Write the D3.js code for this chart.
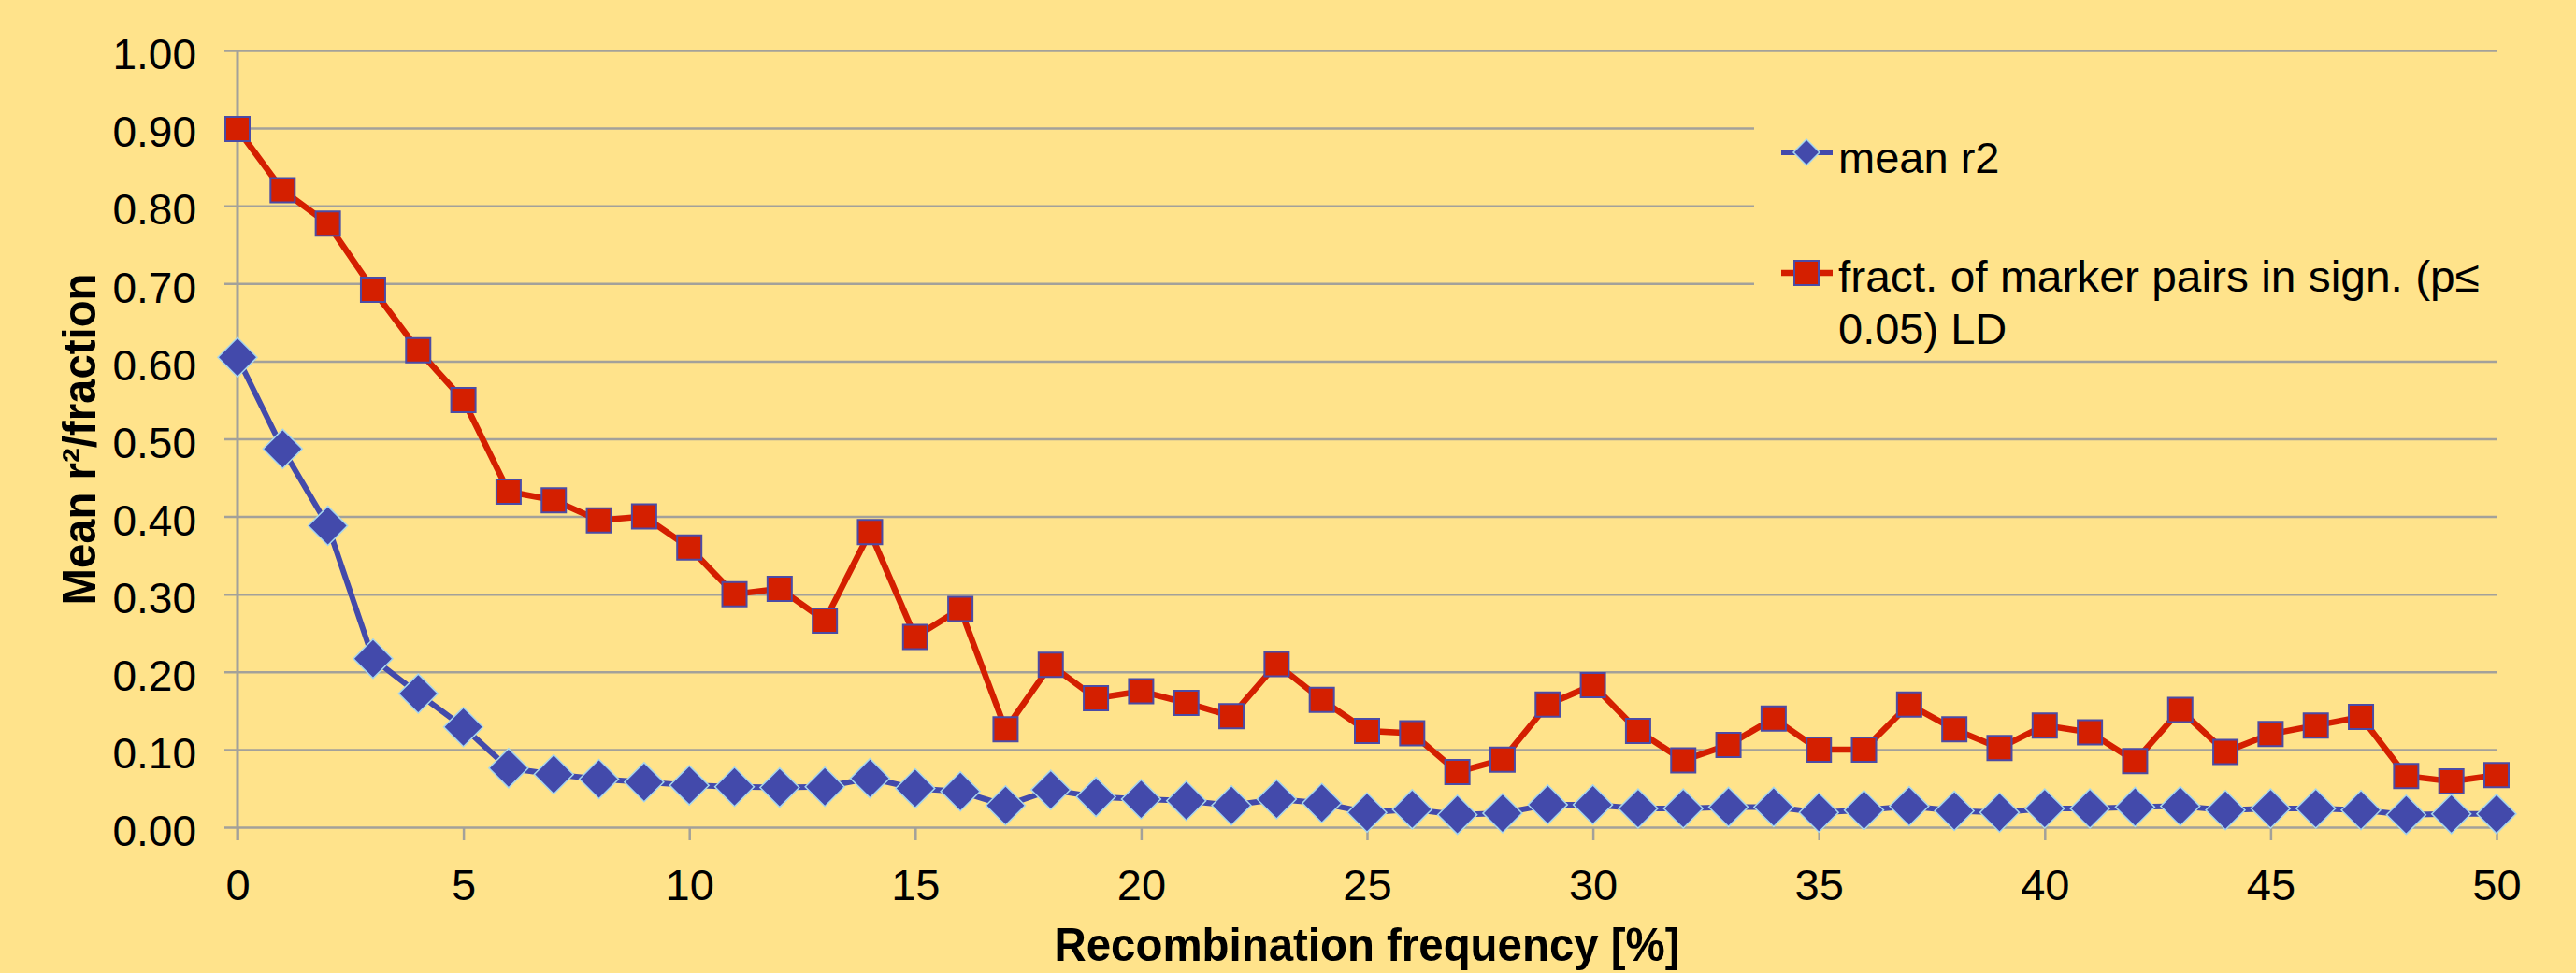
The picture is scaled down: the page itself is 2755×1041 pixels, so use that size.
<!DOCTYPE html>
<html lang="en">

<head>
  <meta charset="UTF-8">
  <title>Mean r2 / LD fraction vs recombination frequency</title>
  <style>
    body {
      margin: 0;
      background: #ffe38b;
    }
    text {
      font-family: "Liberation Sans", Arial, sans-serif;
      fill: #000;
    }
    .gridlines line {
      stroke: #a3a19a;
      stroke-width: 2.5;
    }
    .gridlines .domain,
    .labels .domain,
    .labels line {
      display: none;
    }
  </style>
  <script src="https://d3js.org/d3.v7.min.js"></script>
</head>

<body>
  <svg id="chart" width="2755" height="1041"></svg>
  <script>
    // recombination frequency [%]
    const freq = [0, 1, 2, 3, 4, 5, 6, 7, 8, 9, 10, 11, 12, 13, 14, 15, 16, 17, 18, 19, 20,
      21, 22, 23, 24, 25, 26, 27, 28, 29, 30, 31, 32, 33, 34, 35, 36, 37, 38, 39, 40,
      41, 42, 43, 44, 45, 46, 47, 48, 49, 50];

    const meanR2 = [0.605, 0.487, 0.388, 0.217, 0.172, 0.129, 0.076, 0.068, 0.062, 0.058, 0.054,
      0.052, 0.051, 0.052, 0.063, 0.050, 0.046, 0.028, 0.048, 0.039, 0.036,
      0.034, 0.028, 0.036, 0.031, 0.019, 0.023, 0.016, 0.018, 0.029, 0.029,
      0.024, 0.024, 0.026, 0.026, 0.019, 0.022, 0.027, 0.021, 0.019, 0.024,
      0.024, 0.026, 0.027, 0.022, 0.024, 0.024, 0.022, 0.016, 0.017, 0.017];

    const fractLD = [0.899, 0.820, 0.777, 0.692, 0.614, 0.550, 0.432, 0.421, 0.395, 0.400, 0.360,
      0.300, 0.307, 0.266, 0.380, 0.245, 0.281, 0.126, 0.209, 0.166, 0.175,
      0.160, 0.143, 0.210, 0.164, 0.124, 0.121, 0.071, 0.087, 0.158, 0.183,
      0.124, 0.086, 0.106, 0.140, 0.100, 0.100, 0.158, 0.126, 0.102, 0.131,
      0.122, 0.085, 0.151, 0.097, 0.120, 0.131, 0.142, 0.066, 0.059, 0.067];

    const yTicks = [0, 0.1, 0.2, 0.3, 0.4, 0.5, 0.6, 0.7, 0.8, 0.9, 1.0];
    const xTicks = [0, 5, 10, 15, 20, 25, 30, 35, 40, 45, 50];
    const seriesNames = ["mean r2", "fract. of marker pairs in sign. (p≤", "0.05) LD"];

    const svg = d3.select("svg#chart");
    const gridLeft = 240;
    const plotLeft = 254, plotRight = 2670, plotTop = 54, plotBottom = 885;

    const xScale = d3.scaleLinear().domain([0, 50]).range([plotLeft, plotRight]);
    const yScale = d3.scaleLinear().domain([0, 1]).range([plotBottom, plotTop]);

    // horizontal gridlines (they poke out left of the axis like ticks)
    let grid = d3.axisRight(yScale).tickValues(yTicks)
      .tickSize(plotRight - gridLeft).tickFormat('');
    svg.append('g')
      .attr('class', 'gridlines')
      .attr('transform', `translate(${gridLeft},0)`)
      .call(grid);

    // legend sits on top of the gridlines
    svg.append('rect')
      .attr('x', 1876).attr('y', 80)
      .attr('width', 820).attr('height', 290)
      .attr('fill', '#ffe38b');

    // y tick labels
    let leftAxis = d3.axisLeft(yScale).tickValues(yTicks)
      .tickSize(0).tickPadding(44).tickFormat(d3.format(".2f"));
    svg.append('g')
      .attr('class', 'labels')
      .attr('transform', `translate(${plotLeft},0)`)
      .call(leftAxis)
      .selectAll('text')
      .attr('font-size', 46)
      .attr('font-family', '"Liberation Sans", Arial, sans-serif')
      .attr('dy', '0.43em');

    // x axis ticks + labels
    let bottomAxis = d3.axisBottom(xScale).tickValues(xTicks)
      .tickSize(14).tickPadding(31);
    let xg = svg.append('g')
      .attr('transform', `translate(0,${plotBottom})`)
      .call(bottomAxis);
    xg.select('.domain').remove();
    xg.selectAll('line').attr('stroke', '#a3a19a').attr('stroke-width', 2.5);
    xg.selectAll('text')
      .attr('font-size', 47)
      .attr('font-family', '"Liberation Sans", Arial, sans-serif');

    // vertical axis line
    svg.append('line')
      .attr('x1', plotLeft).attr('x2', plotLeft)
      .attr('y1', plotTop).attr('y2', plotBottom + 14)
      .attr('stroke', '#a3a19a').attr('stroke-width', 3);

    const line = d3.line()
      .x((d, i) => xScale(freq[i]))
      .y(d => yScale(d));

    const diamond = d3.symbol(d3.symbolSquare, 880);
    const square = d3.symbol(d3.symbolSquare, 676);

    // mean r2
    svg.append('path')
      .datum(meanR2)
      .attr('d', line)
      .attr('fill', 'none')
      .attr('stroke', '#434aab')
      .attr('stroke-width', 6);
    svg.append('g').selectAll('path')
      .data(meanR2)
      .join('path')
      .attr('d', diamond)
      .attr('transform', (d, i) => `translate(${xScale(freq[i])},${yScale(d)}) rotate(45)`)
      .attr('fill', '#434aab')
      .attr('stroke', '#a6d6ee')
      .attr('stroke-width', 1.5);

    // fraction in LD
    svg.append('path')
      .datum(fractLD)
      .attr('d', line)
      .attr('fill', 'none')
      .attr('stroke', '#d41f00')
      .attr('stroke-width', 6.5);
    svg.append('g').selectAll('path')
      .data(fractLD)
      .join('path')
      .attr('d', square)
      .attr('transform', (d, i) => `translate(${xScale(freq[i])},${yScale(d)})`)
      .attr('fill', '#d41f00')
      .attr('stroke', '#4b4ba6')
      .attr('stroke-width', 2);

    // legend
    let legend = svg.append('g');
    legend.append('line')
      .attr('x1', 1905).attr('x2', 1960).attr('y1', 163).attr('y2', 163)
      .attr('stroke', '#434aab').attr('stroke-width', 6);
    legend.append('path')
      .attr('d', d3.symbol(d3.symbolSquare, 392))
      .attr('transform', 'translate(1932,163) rotate(45)')
      .attr('fill', '#434aab').attr('stroke', '#a6d6ee').attr('stroke-width', 1.5);
    legend.append('text')
      .attr('x', 1966).attr('y', 185)
      .attr('font-size', 47)
      .text(seriesNames[0]);

    legend.append('line')
      .attr('x1', 1905).attr('x2', 1960).attr('y1', 292).attr('y2', 292)
      .attr('stroke', '#d41f00').attr('stroke-width', 6.5);
    legend.append('path')
      .attr('d', d3.symbol(d3.symbolSquare, 676))
      .attr('transform', 'translate(1932,292)')
      .attr('fill', '#d41f00').attr('stroke', '#4b4ba6').attr('stroke-width', 2);
    legend.append('text')
      .attr('x', 1966).attr('y', 312)
      .attr('font-size', 47)
      .attr('textLength', 686)
      .attr('lengthAdjust', 'spacingAndGlyphs')
      .text(seriesNames[1]);
    legend.append('text')
      .attr('x', 1966).attr('y', 368)
      .attr('font-size', 47)
      .text(seriesNames[2]);

    // axis titles
    svg.append('text')
      .attr('x', (plotLeft + plotRight) / 2)
      .attr('y', 1028)
      .attr('text-anchor', 'middle')
      .attr('font-size', 50)
      .attr('font-weight', 'bold')
      .attr('textLength', 669)
      .attr('lengthAdjust', 'spacingAndGlyphs')
      .text("Recombination frequency [%]");

    svg.append('text')
      .attr('transform', 'translate(102,470) rotate(-90)')
      .attr('text-anchor', 'middle')
      .attr('font-size', 50)
      .attr('font-weight', 'bold')
      .attr('textLength', 355)
      .attr('lengthAdjust', 'spacingAndGlyphs')
      .text("Mean r²/fraction");
  </script>
</body>

</html>
